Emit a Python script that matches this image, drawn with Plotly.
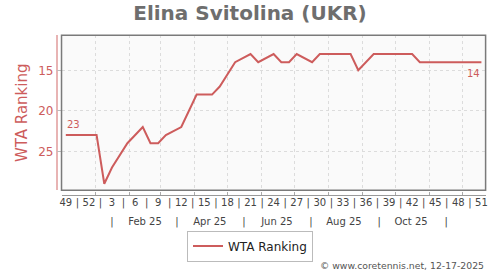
import pandas as pd
import plotly.graph_objects as go

# ---- data ----
player = "Elina Svitolina (UKR)"
start_date = "2024-12-05"
week_offsets = [0, 1, 2, 3, 4, 5, 6, 8, 10, 11, 12, 13, 15, 17, 18, 19, 20, 22, 24, 25,
                27, 28, 29, 30, 32, 33, 34, 35, 36, 37, 38, 40, 41, 42, 43, 44, 45, 46,
                47, 48, 49, 50, 51, 52, 53, 54]
ranks = [23, 23, 23, 23, 23, 29, 27, 24, 22, 24, 24, 23, 22, 18, 18, 18, 17, 14, 13, 14,
         13, 14, 14, 13, 14, 13, 13, 13, 13, 13, 15, 13, 13, 13, 13, 13, 13, 14,
         14, 14, 14, 14, 14, 14, 14, 14]
week_labels = ["49", "52", "3", "6", "9", "12", "15", "18", "21", "24", "27", "30",
               "33", "36", "39", "42", "45", "48", "51"]
month_labels = ["Feb 25", "Apr 25", "Jun 25", "Aug 25", "Oct 25"]
month_label_dates = ["2025-02-15", "2025-04-15", "2025-06-15", "2025-08-15", "2025-10-15"]
month_sep_dates = ["2025-01-16", "2025-03-16", "2025-05-16", "2025-07-16", "2025-09-16", "2025-11-16"]
grid_dates = pd.date_range("2025-01-01", "2025-12-01", freq="MS")
y_ticks = [15, 20, 25]
credit = "© www.coretennis.net, 12-17-2025"

# ---- derived ----
t0 = pd.Timestamp(start_date)
dates = [t0 + pd.Timedelta(days=7 * w) for w in week_offsets]

wk_vals, wk_text = [], []
for k, lab in enumerate(week_labels):
    wk_vals.append(t0 + pd.Timedelta(days=21 * k))
    wk_text.append(lab)
    if k < len(week_labels) - 1:
        wk_vals.append(t0 + pd.Timedelta(days=21 * k + 10.5))
        wk_text.append("|")

mo_vals = list(pd.to_datetime(month_label_dates)) + list(pd.to_datetime(month_sep_dates))
mo_text = month_labels + ["|"] * len(month_sep_dates)

x_range = [t0 - pd.Timedelta(days=3.9), dates[-1] + pd.Timedelta(days=3.8)]

RED = "#cd5c5c"
FONT = "DejaVu Sans"
GRID = "#dcdcdc"

fig = go.Figure()
fig.add_trace(go.Scatter(
    x=dates, y=ranks, mode="lines", name="WTA Ranking",
    line=dict(color=RED, width=2),
))

X0, X1 = 60 / 500, 487.5 / 500
Y0, Y1 = (270 - 190.3) / 270, (270 - 35.3) / 270

fig.update_layout(
    width=500, height=270,
    margin=dict(l=0, r=0, t=0, b=0),
    paper_bgcolor="white", plot_bgcolor="#fafafa",
    font=dict(family=FONT, size=10, color="#444"),
    title=dict(text="<b>" + player + "</b>", x=0.5, xanchor="center",
               y=1 - 13 / 270, yanchor="middle", yref="container",
               font=dict(family=FONT, size=20, color="#6e6e6e")),
    xaxis=dict(type="date", domain=[X0, X1], range=x_range,
               anchor="free", position=(270 - 195) / 270,
               tickmode="array", tickvals=list(grid_dates), showticklabels=False,
               showgrid=True, gridcolor=GRID, griddash="3px,3px", gridwidth=1,
               showline=True, linecolor="#999", linewidth=1,
               ticks="inside", ticklen=3, tickcolor="#aaa", zeroline=False),
    xaxis2=dict(type="date", overlaying="x", range=x_range,
                anchor="free", position=(270 - 195) / 270,
                tickmode="array", tickvals=wk_vals, ticktext=wk_text, tickangle=0,
                showgrid=False, showline=False, ticks="", zeroline=False,
                tickfont=dict(family=FONT, size=10, color="#444")),
    xaxis3=dict(type="date", overlaying="x", range=x_range,
                anchor="free", position=(270 - 214) / 270,
                tickmode="array", tickvals=mo_vals, ticktext=mo_text, tickangle=0,
                showgrid=False, showline=False, ticks="", zeroline=False,
                tickfont=dict(family=FONT, size=10, color="#444")),
    yaxis=dict(domain=[Y0, Y1], range=[29.81, 10.68],
               anchor="free", position=55 / 500,
               tickmode="array", tickvals=y_ticks,
               showgrid=True, gridcolor=GRID, griddash="3px,3px", gridwidth=1,
               showline=True, linecolor="#e8b4b4", linewidth=1.5,
               ticks="inside", ticklen=5, tickcolor="#bbb", zeroline=False,
               tickfont=dict(family=FONT, size=12, color=RED),
               title=dict(text="WTA Ranking", font=dict(family=FONT, size=15, color=RED),
                          standoff=6)),
    showlegend=True,
    legend=dict(orientation="h", x=0.5, xanchor="center", y=(270 - 246) / 270,
                yanchor="middle", bordercolor="#bbb", borderwidth=1, bgcolor="white",
                font=dict(family=FONT, size=12, color="#222")),
)

# invisible traces to activate label axes
fig.add_trace(go.Scatter(x=[dates[0]], y=[ranks[0]], xaxis="x2", mode="markers",
                         marker=dict(opacity=0), showlegend=False, hoverinfo="skip"))
fig.add_trace(go.Scatter(x=[dates[0]], y=[ranks[0]], xaxis="x3", mode="markers",
                         marker=dict(opacity=0), showlegend=False, hoverinfo="skip"))

fig.add_shape(type="rect", xref="x domain", yref="y domain", x0=0, x1=1, y0=0, y1=1,
              line=dict(color="#7a7a7a", width=1.5), layer="above")

# first / last value labels
fig.add_annotation(x=dates[0], y=ranks[0], text=str(ranks[0]), showarrow=False,
                   xanchor="left", yanchor="bottom", yshift=3, xshift=-1,
                   font=dict(family=FONT, size=10, color=RED))
fig.add_annotation(x=dates[-1], y=ranks[-1], text=str(ranks[-1]), showarrow=False,
                   xanchor="right", yanchor="top", yshift=-4, xshift=1,
                   font=dict(family=FONT, size=10, color=RED))

fig.add_annotation(text=credit, xref="paper", yref="paper", x=488 / 500, y=(270 - 265) / 270,
                   xanchor="right", yanchor="middle", showarrow=False,
                   font=dict(family=FONT, size=9.3, color="#555"))

fig.write_html("out.html")
